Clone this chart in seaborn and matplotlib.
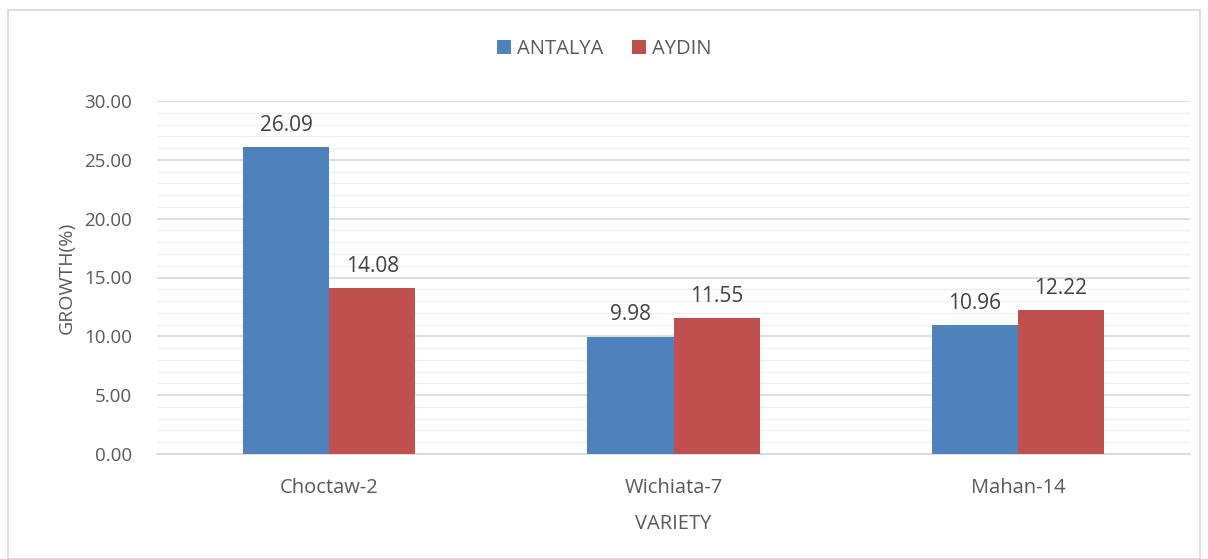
import pandas as pd
import numpy as np
import matplotlib.pyplot as plt
import seaborn as sns
from matplotlib.ticker import MultipleLocator
from matplotlib.patches import Rectangle

varieties = ['Choctaw-2', 'Wichiata-7', 'Mahan-14']
antalya = [26.09, 9.98, 10.96]
aydin = [14.08, 11.55, 12.22]
locations = ['ANTALYA', 'AYDIN']
colors = ['#4F81BD', '#C0504D']

df = pd.DataFrame({
    'VARIETY': varieties * 2,
    'GROWTH': antalya + aydin,
    'Location': [locations[0]] * 3 + [locations[1]] * 3,
})

sns.set_theme(style="white")
plt.rcParams['font.family'] = ['Open Sans', 'DejaVu Sans']
text_color = '#595959'

fig = plt.figure(figsize=(12.08, 5.59), dpi=100)
# plot area in pixels: x 157..1190, y 101..454
ax = fig.add_axes([157 / 1208, 1 - 454 / 559, 1033 / 1208, 353 / 559])

sns.barplot(data=df, x='VARIETY', y='GROWTH', hue='Location', palette=colors,
            width=0.5, saturation=1, linewidth=0, ax=ax, zorder=3, legend=True)

ax.set_ylim(0, 30)
ax.set_xlim(-0.5, 2.5)
ax.yaxis.set_minor_locator(MultipleLocator(1))
ax.set_yticks(np.arange(0, 31, 5))
ax.set_yticklabels([f'{v:.2f}' for v in np.arange(0, 31, 5)])
ax.grid(which='major', axis='y', color='#D9D9D9', linewidth=1.2, zorder=0)
ax.grid(which='minor', axis='y', color='#F0F0F0', linewidth=1.0, zorder=0)
ax.tick_params(axis='both', which='both', length=0, colors=text_color)
ax.tick_params(axis='x', labelsize=14.5, pad=17)
ax.tick_params(axis='y', labelsize=13.5, pad=18)
for s in ['top', 'right', 'left']:
    ax.spines[s].set_visible(False)
ax.spines['bottom'].set_color('#D9D9D9')
ax.spines['bottom'].set_linewidth(1.2)

for cont in ax.containers:
    ax.bar_label(cont, fmt='%.2f', padding=8, fontsize=15, color='#404040')

ax.set_xlabel('VARIETY', fontsize=14.5, color=text_color, labelpad=12)
ax.set_ylabel('GROWTH(%)', fontsize=14, color=text_color, labelpad=6)

handles, labels = ax.get_legend_handles_labels()
ax.legend(handles, labels, loc='center', bbox_to_anchor=(0.5, 1 - 49 / 559),
          bbox_transform=fig.transFigure, ncol=2, frameon=False, fontsize=14.5,
          handlelength=0.7, handleheight=0.7, handletextpad=0.3, columnspacing=1.4,
          labelcolor=text_color)

fig.patches.append(Rectangle((8 / 1208, 0), 1192 / 1208, 1 - 10 / 559,
                             transform=fig.transFigure, fill=False,
                             edgecolor='#D9D9D9', linewidth=1.2))

plt.savefig('out.png', dpi=100)
